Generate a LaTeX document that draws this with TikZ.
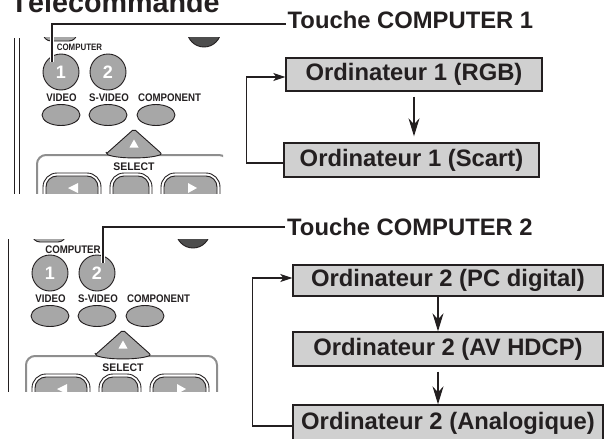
\documentclass[tikz,border=0pt]{standalone}
\usepackage{fontspec}
\setmainfont{Liberation Sans}
% condensed bold faces for the small keypad captions
\newfontfamily\rfont[FakeStretch=0.88]{Liberation Sans Bold}
\newfontfamily\rfontw[FakeStretch=0.95]{Liberation Sans Bold}
\newfontfamily\rfontn[FakeStretch=0.85]{Liberation Sans Bold}
\usetikzlibrary{arrows.meta}
\definecolor{ink}{HTML}{231F20}
\definecolor{boxgray}{HTML}{D0D0D0}
\definecolor{btngray}{HTML}{A7A7A7}
\definecolor{capgray}{HTML}{4D4D4D}
\definecolor{panelgray}{HTML}{8E8E8E}

% Remote control keypad, drawn in its own coordinates
\newcommand\rcbody{%
  % edge of the handset
  \draw[ink, line width=0.9pt] (14.7,38) -- (14.7,200) (19.3,38) -- (19.3,200);
  % keys above the COMPUTER keys (only their lower rims show)
  \draw[rbtn, rounded corners=8pt] (43,15) rectangle (77,41);
  \draw[ink, line width=0.9pt, fill=capgray] (204,30) circle[radius=17];
  % COMPUTER 1 / 2 keys
  \draw[rbtn] (61,72) circle[radius=18];
  \draw[rbtn] (108,72) circle[radius=18];
  \node[digit] at (61,72) {1};
  \node[digit] at (108,72) {2};
  % source keys
  \node[rlabel] at (61.5,98) {VIDEO};
  \node[rlabel] at (109,98) {S-VIDEO};
  \node[rlabel] at (169.5,98) {COMPONENT};
  \draw[rbtn] (61,115) ellipse[x radius=19, y radius=10.5];
  \draw[rbtn] (108,115) ellipse[x radius=19, y radius=10.5];
  \draw[rbtn] (156,115) ellipse[x radius=19, y radius=10.5];
  % SELECT panel
  \draw[panelgray, line width=2pt, rounded corners=9pt] (37,230) -- (37,155) -- (228,155) -- (228,230);
  \draw[rbtn, rounded corners=2pt] (106,154) -- (134,129) -- (162,154)
     .. controls (150,159) and (118,159) .. (106,154) -- cycle;
  \fill[white] (129.5,147.5) -- (134,139.5) -- (138.5,147.5) -- cycle;
  \node[rlabel, font=\rfontw\fontsize{11}{13}\selectfont] at (134,167) {SELECT};
  \foreach \a/\b in {43/101,110/152,161/220} {
    \draw[ink, line width=0.9pt, fill=white, rounded corners=14pt] (\a,173) rectangle (\b,215);
    \draw[rbtn, rounded corners=11pt] (\a+3,176) rectangle (\b-3,215);
  }
  \fill[white] (68,188) -- (78,183) -- (78,193) -- cycle;
  \fill[white] (197,188) -- (188,183) -- (188,193) -- cycle;
}

\begin{document}
\begin{tikzpicture}[x=1pt, y=-1pt,
  rbtn/.style={draw=ink, line width=0.9pt, fill=btngray},
  digit/.style={text=white, inner sep=0pt, font=\bfseries\fontsize{18}{20}\selectfont},
  rlabel/.style={text=ink, inner sep=0pt, font=\rfont\fontsize{11}{13}\selectfont},
  modebox/.style={draw=ink, line width=1.4pt, fill=boxgray, inner sep=0pt, text=ink,
    font=\bfseries\fontsize{23.8}{28}\selectfont},
  touche/.style={text=ink, inner ysep=0pt, inner xsep=2pt, font=\bfseries\fontsize{23.8}{28}\selectfont},
  callout/.style={ink, line width=1.2pt, preaction={draw=white, line width=4.5pt}},
  flowarrow/.style={ink, line width=1.2pt, -{Stealth[length=18pt, width=11pt, inset=6pt]}},
  backline/.style={ink, line width=1.2pt, -{Stealth[length=12pt, width=8pt, inset=3pt]}}]

\useasboundingbox (0,0) rectangle (605,439);

% heading
\node[anchor=base west, inner sep=0pt, text=ink, font=\bfseries\fontsize{28.7}{30}\selectfont]
  (title) at (10.5,12.5) {Télécommande};

% upper keypad
\begin{scope}
  \clip (0,37) rectangle (223,193);
  \rcbody
  \node[rlabel, font=\rfontn\fontsize{9.3}{11}\selectfont] (comp1) at (79.5,47) {COMPUTER};
\end{scope}

% lower keypad
\begin{scope}
  \clip (6,239) rectangle (220,391);
  \begin{scope}[shift={(-11,201)}]
    \rcbody
  \end{scope}
  \node[rlabel] (comp2) at (73,250) {COMPUTER};
\end{scope}

% key labels
\node[touche, anchor=base west] (t1) at (285.5,28) {Touche COMPUTER 1};
\node[touche, anchor=base west] (t2) at (285,235) {Touche COMPUTER 2};

% callout lines
\coordinate (k1end) at (52,62);
\coordinate (k1) at (52,24);
\draw[callout] (k1end) -- (k1) -- (k1 -| t1.west);
\coordinate (k2end) at (103,263);
\coordinate (k2) at (103,227);
\draw[callout] (k2end) -- (k2) -- (k2 -| t2.west);

% COMPUTER 1 cycle
\node[modebox, minimum width=256pt, minimum height=33pt] (rgb) at (414,74.5) {Ordinateur 1 (RGB)};
\node[modebox, minimum width=255pt, minimum height=34pt] (scart) at (411.5,160) {Ordinateur 1 (Scart)};
\draw[flowarrow] ([yshift=-5pt]rgb.south) -- ([yshift=6pt]scart.north -| rgb.south);
\draw[backline] ([yshift=-3pt]scart.west) -- ++(-37,0) |- ([yshift=-2.5pt]rgb.west);

% COMPUTER 2 cycle
\node[modebox, minimum width=310pt, minimum height=31pt] (pc) at (448,280.5) {Ordinateur 2 (PC digital)};
\node[modebox, minimum width=310pt, minimum height=34pt] (av) at (448,349) {Ordinateur 2 (AV HDCP)};
\node[modebox, minimum width=310pt, minimum height=36pt] (ana) at (448,423) {Ordinateur 2 (Analogique)};
\draw[flowarrow] ([xshift=-10pt]pc.south) -- ([xshift=-10pt]av.north);
\draw[flowarrow] ([xshift=-10pt, yshift=-5pt]av.south) -- ([xshift=-10pt]ana.north);
\draw[backline] ([yshift=-3pt]ana.west) -- ++(-40,0) |- ([yshift=2.5pt]pc.west);

\end{tikzpicture}
\end{document}
